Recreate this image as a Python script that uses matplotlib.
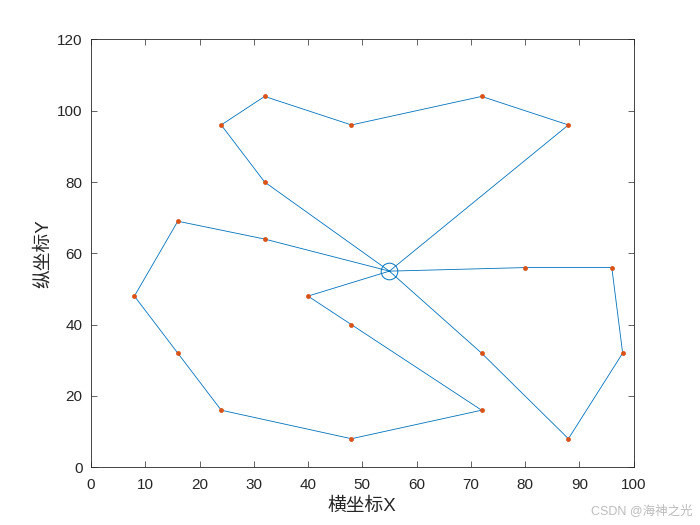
import matplotlib.pyplot as plt

plt.rcParams["font.family"] = ["Liberation Sans", "Noto Sans CJK SC", "DejaVu Sans"]

# depot and routes (each route starts and ends at the depot)
depot = (55, 55)
route_x = [
    [32, 24, 32, 48, 72, 88],
    [32, 16, 8, 16, 24, 48, 72, 48, 40],
    [72, 88, 98, 96, 80],
]
route_y = [
    [80, 96, 104, 96, 104, 96],
    [64, 69, 48, 32, 16, 8, 16, 40, 48],
    [32, 8, 32, 56, 56],
]

line_color = (0, 0.447, 0.741)
point_color = (0.85, 0.325, 0.098)

fig = plt.figure(figsize=(7, 5.25), dpi=100)
ax = fig.add_axes([0.13, 0.11, 0.775, 0.815])

for xs, ys in zip(route_x, route_y):
    px = [depot[0]] + xs + [depot[0]]
    py = [depot[1]] + ys + [depot[1]]
    ax.plot(px, py, color=line_color, linewidth=0.6)

for xs, ys in zip(route_x, route_y):
    ax.plot(xs, ys, linestyle="none", marker="o", markersize=3.5,
            color=point_color, markeredgewidth=0)

ax.plot(depot[0], depot[1], marker="o", markersize=12, markerfacecolor="none",
        markeredgecolor=line_color, markeredgewidth=0.7, linestyle="none")

ax.set_xlim(0, 100)
ax.set_ylim(0, 120)
ax.set_xticks(range(0, 101, 10))
ax.set_yticks(range(0, 121, 20))
ax.tick_params(direction="in", length=4, width=0.5, labelsize=11, top=True, right=True,
               labeltop=False, labelright=False, colors="#262626")
ax.tick_params(axis="x", pad=8)
ax.tick_params(axis="y", pad=6)
for s in ax.spines.values():
    s.set_linewidth(0.6)
    s.set_color("#262626")

ax.set_xlabel("横坐标X", fontsize=13.5, color="#262626", labelpad=4)
ax.set_ylabel("纵坐标Y", fontsize=13.5, color="#262626", labelpad=4)

fig.text(0.99, 0.028, "CSDN @海神之光", ha="right", va="center", fontsize=9,
         color="#bbbbbb")

fig.savefig("out.png", dpi=100)
